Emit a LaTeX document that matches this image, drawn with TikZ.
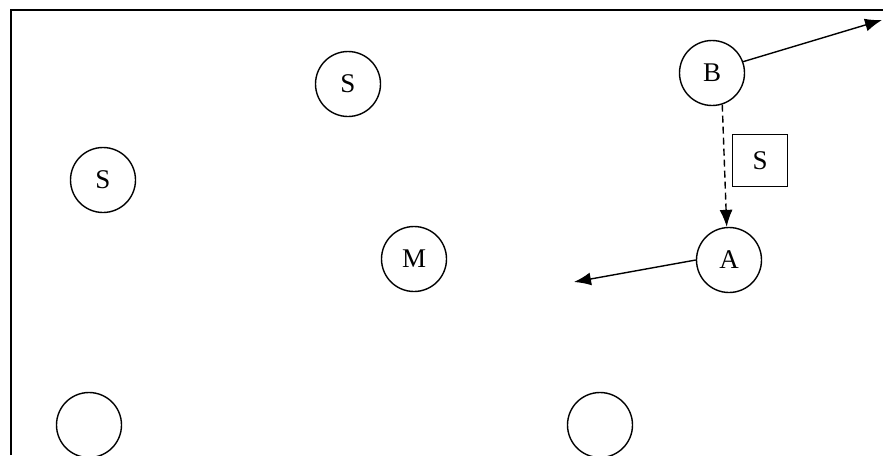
\documentclass[tikz,border=0pt]{standalone}
\usepackage{fontspec}
\setmainfont{Liberation Serif}
\usetikzlibrary{arrows.meta}

\begin{document}
\begin{tikzpicture}[x=1pt,y=-1pt,
    body/.style={draw,circle,minimum size=65pt,inner sep=0pt,line width=1.4pt,
                 font=\fontsize{27}{30}\selectfont},
    tag/.style={draw,rectangle,minimum width=55pt,minimum height=52pt,inner sep=0pt,
                line width=1.4pt,font=\fontsize{27}{30}\selectfont},
    move/.style={line width=1.4pt,-{Latex[length=17pt,width=13pt]}}]

    \useasboundingbox (0,0) rectangle (883,455);
    \clip (0,0) rectangle (883,455);

    % Draw the frame (top and left edges)
    \draw[line width=2pt] (10.5,455) -- (10.5,9.5) -- (883,9.5);

    % Bodies in the field
    \node[body] (sTop) at (348,84) {S};
    \node[body] (sLeft) at (103,180) {S};
    \node[body] (m) at (414,259) {M};
    \node[body] (b) at (712,73) {B};
    \node[body] (a) at (729,260) {A};
    \node[body] (lowLeft) at (89,425) {};
    \node[body] (lowRight) at (600,425) {};

    % The label box beside the dashed link
    \node[tag] (sBox) at (760,160.5) {S};

    % Free ends of the motion arrows
    \coordinate (bEnd) at (882,20);
    \coordinate (aEnd) at (574,282);

    % Motion arrows
    \draw[move] (b.20) -- (bEnd);
    \draw[move] (a.west) -- (aEnd);

    % Dashed link from B down to A
    \draw[move,dash pattern=on 7pt off 4pt] (b.-72) -- (a.94);
\end{tikzpicture}
\end{document}
